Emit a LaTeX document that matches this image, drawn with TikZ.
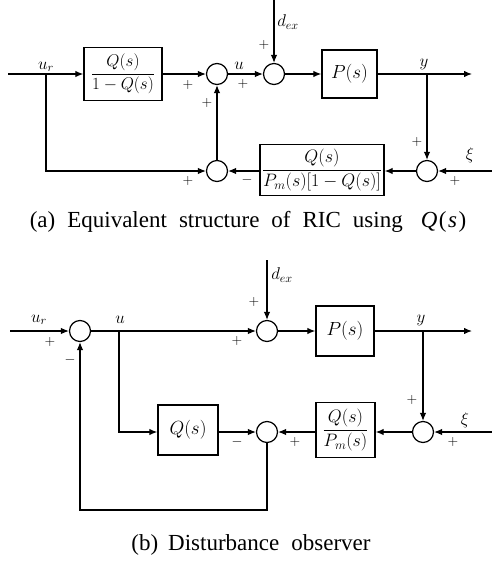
\RequirePackage{fix-cm}
\documentclass[tikz,border=0pt]{standalone}
\usepackage{fontspec}
\newfontfamily\capfont{Liberation Serif}
\usetikzlibrary{arrows.meta,calc}
\begin{document}
\begin{tikzpicture}[x=1pt,y=-1pt,
  every node/.style={inner sep=0pt},
  line/.style={line width=1.2pt},
  arr/.style={line width=1.2pt,-{Latex[length=8pt,width=6.5pt]}},
  sumc/.style={draw,circle,line width=1.2pt,minimum size=21pt,inner sep=0pt},
  blk/.style={draw,line width=1.4pt,inner sep=0pt,font=\fontsize{19}{22}\selectfont},
  lab/.style={font=\fontsize{17}{19}\selectfont},
  sgn/.style={font=\fontsize{14}{16}\selectfont},
  captxt/.style={font=\capfont\fontsize{23}{26}\selectfont}]
\useasboundingbox (0,0) rectangle (492,563);

% ---------------- (a) ----------------
\coordinate (ina) at (8,74);
\coordinate (bra) at (46,74);
\node[blk,minimum width=78pt,minimum height=53pt,font=\fontsize{17}{20}\selectfont] (qa) at (123,74) {$\displaystyle\frac{Q(s)}{1-Q(s)}$};
\node[sumc] (s1) at (217,74) {};
\node[sumc] (s2) at (217,171) {};
\node[sumc] (s3) at (274,74) {};
\coordinate (dtopa) at (274,0);
\node[blk,minimum width=55pt,minimum height=48pt] (pa) at (349.5,74) {$P(s)$};
\coordinate (bya) at (427,74);
\coordinate (outa) at (472,74);
\node[sumc] (s4) at (427,171) {};
\coordinate (xia) at (492,171);
\node[blk,minimum width=124pt,minimum height=51pt,font=\fontsize{18}{21}\selectfont] (fa) at (322,170) {$\displaystyle\frac{Q(s)}{P_m(s)[1-Q(s)]}$};

\draw[line] (ina) -- (bra);
\draw[arr] (bra) -- (qa);
\draw[arr] (qa) -- (s1);
\draw[arr] (bra) |- (s2);
\draw[arr] (s2) -- (s1);
\draw[arr] (s1) -- (s3);
\draw[arr] (dtopa) -- (s3);
\draw[arr] (s3) -- (pa);
\draw[arr] (pa) -- (outa);
\draw[arr] (bya) -- (s4);
\draw[arr] (xia) -- (s4);
\draw[arr] (s4) -- (s4 -| fa.east);
\draw[arr] (s2 -| fa.west) -- (s2);

\node[lab] (lura) at (46,67) {$u_r$};
\node[lab] (lua) at (239,66) {$u$};
\node[lab] (ldea) at (288,22) {$d_{ex}$};
\node[lab] (lya) at (424,64) {$y$};
\node[lab] (lxia) at (470,155) {$\xi$};

\node[sgn] (pa1) at (188,85) {$+$};
\node[sgn] (pa2) at (207,103) {$+$};
\node[sgn] (pa3) at (188,181) {$+$};
\node[sgn] (ma1) at (247,180) {$-$};
\node[sgn] (pa4) at (243,84) {$+$};
\node[sgn] (pa5) at (264,45) {$+$};
\node[sgn] (pa6) at (417,142) {$+$};
\node[sgn] (pa7) at (455,181) {$+$};

\node[captxt] (capa) at (248,222) {(a)\hspace{12pt}Equivalent\hspace{12pt}structure\hspace{12pt}of\hspace{12pt}RIC\hspace{12pt}using\hspace{18pt}\textit{Q}\hspace{1.5pt}(\hspace{1.5pt}\textit{s}\hspace{1.5pt})};

% ---------------- (b) ----------------
\coordinate (inb) at (10,331);
\node[sumc] (s5) at (80,331) {};
\coordinate (bub) at (119,331);
\node[sumc] (s7) at (267,331) {};
\coordinate (dtopb) at (267,260);
\node[blk,minimum width=58pt,minimum height=50pt] (pb) at (345,331) {$P(s)$};
\coordinate (byb) at (423,331);
\coordinate (outb) at (472,331);
\node[sumc] (s8) at (423,432) {};
\coordinate (xib) at (492,432);
\node[blk,minimum width=59pt,minimum height=55pt,font=\fontsize{18}{21}\selectfont] (fb) at (345.5,430) {$\displaystyle\frac{Q(s)}{P_m(s)}$};
\node[sumc] (s6) at (267,432) {};
\node[blk,minimum width=60pt,minimum height=50pt] (qb) at (188,430) {$Q(s)$};
\coordinate (lb) at (267,510);

\draw[arr] (inb) -- (s5);
\draw[line] (s5) -- (bub);
\draw[arr] (bub) -- (s7);
\draw[arr] (bub) |- (s6 -| qb.west);
\draw[arr] (s6 -| qb.east) -- (s6);
\draw[arr] (s6 -| fb.west) -- (s6);
\draw[arr] (s8) -- (s8 -| fb.east);
\draw[arr] (xib) -- (s8);
\draw[arr] (byb) -- (s8);
\draw[arr] (s7) -- (pb);
\draw[arr] (pb) -- (outb);
\draw[arr] (dtopb) -- (s7);
\draw[arr] (s6) -- (lb) -| (s5);

\node[lab] (lurb) at (39,320) {$u_r$};
\node[lab] (lub) at (120,320) {$u$};
\node[lab] (ldeb) at (282,275) {$d_{ex}$};
\node[lab] (lyb) at (421,320) {$y$};
\node[lab] (lxib) at (465,420) {$\xi$};

\node[sgn] (pb1) at (50,342) {$+$};
\node[sgn] (mb1) at (70,360) {$-$};
\node[sgn] (pb2) at (237,341) {$+$};
\node[sgn] (pb3) at (254,302) {$+$};
\node[sgn] (mb2) at (237,442) {$-$};
\node[sgn] (pb4) at (295,442) {$+$};
\node[sgn] (pb5) at (412,400) {$+$};
\node[sgn] (pb6) at (453,442) {$+$};

\node[captxt] (capb) at (251,545) {(b)\hspace{10pt}Disturbance\hspace{12pt}observer};
\end{tikzpicture}
\end{document}
